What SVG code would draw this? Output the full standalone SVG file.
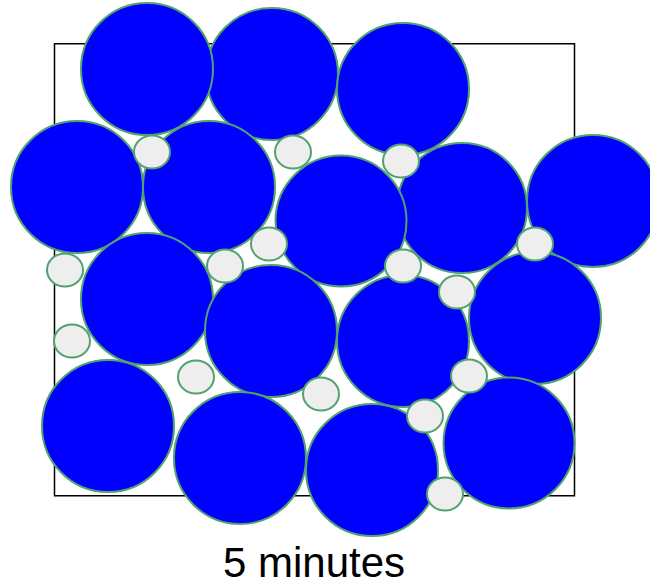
<svg xmlns="http://www.w3.org/2000/svg" width="650" height="587" viewBox="0 0 650 587">
<style>
.big{fill:#0000ff;stroke:#52a172;stroke-width:2}
.small{fill:#eeeeee;stroke:#52a172;stroke-width:2}
.box{fill:none;stroke:#000000;stroke-width:1.5}
.label{font-family:"Liberation Sans",Arial,sans-serif;font-size:42px;fill:#000000}
</style>
<rect width="650" height="587" fill="#ffffff"/>
<rect class="box" x="54.5" y="43.75" width="520" height="452"/>
<g id="big-circles">
<circle class="big" cx="272" cy="74" r="66"/>
<circle class="big" cx="147" cy="69" r="66"/>
<circle class="big" cx="403" cy="89" r="66"/>
<circle class="big" cx="77" cy="187" r="66"/>
<circle class="big" cx="209" cy="187" r="66"/>
<circle class="big" cx="462" cy="208" r="65"/>
<circle class="big" cx="341" cy="221" r="65.5"/>
<circle class="big" cx="593" cy="201" r="66"/>
<circle class="big" cx="147" cy="299" r="66"/>
<circle class="big" cx="271" cy="331" r="66"/>
<circle class="big" cx="403" cy="341" r="66"/>
<circle class="big" cx="535" cy="318" r="66"/>
<circle class="big" cx="108" cy="426" r="66"/>
<circle class="big" cx="240" cy="458" r="66"/>
<circle class="big" cx="372" cy="470" r="66"/>
<circle class="big" cx="509" cy="443" r="65.5"/>
</g>
<g id="small-ellipses">
<ellipse class="small" cx="152" cy="152" rx="18" ry="16.5"/>
<ellipse class="small" cx="293" cy="152" rx="18" ry="16.5"/>
<ellipse class="small" cx="401" cy="161" rx="18" ry="16.5"/>
<ellipse class="small" cx="65" cy="270" rx="18" ry="16.5"/>
<ellipse class="small" cx="225" cy="266" rx="18" ry="16.5"/>
<ellipse class="small" cx="269" cy="244" rx="18" ry="16.5"/>
<ellipse class="small" cx="403" cy="266" rx="18" ry="16.5"/>
<ellipse class="small" cx="535" cy="244" rx="18" ry="16.5"/>
<ellipse class="small" cx="457" cy="292" rx="18" ry="16.5"/>
<ellipse class="small" cx="72" cy="341" rx="18" ry="16.5"/>
<ellipse class="small" cx="196" cy="377" rx="18" ry="16.5"/>
<ellipse class="small" cx="321" cy="394" rx="18" ry="16.5"/>
<ellipse class="small" cx="469" cy="376" rx="18" ry="16.5"/>
<ellipse class="small" cx="425" cy="416" rx="18" ry="16.5"/>
<ellipse class="small" cx="445" cy="494" rx="18" ry="16.5"/>
</g>
<text class="label" x="314" y="577" text-anchor="middle">5 minutes</text>
</svg>
